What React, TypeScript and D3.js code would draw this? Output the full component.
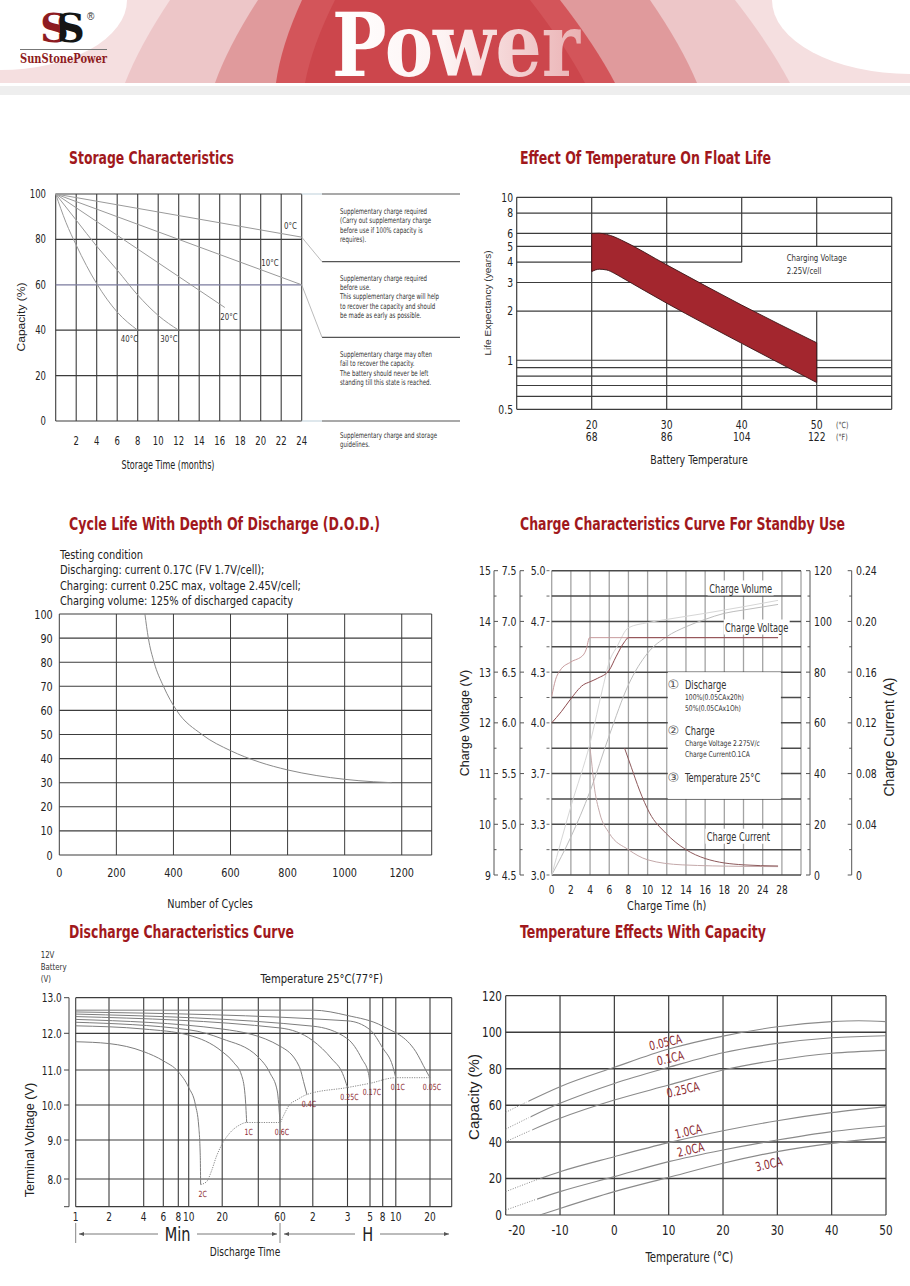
import React from "react";
import * as d3 from "d3";

type Pt = [number, number];

const W = 910;
const H = 1286;

const NARROW = "'DejaVu Sans Condensed', 'DejaVu Sans', sans-serif";
const SANS = "'Liberation Sans', 'DejaVu Sans', sans-serif";
const TITLE_FONT = "'DejaVu Sans Condensed', 'DejaVu Sans', sans-serif";
const TITLE_RED = "#a1181c";
const LABEL_RED = "#8c2a30";
const GRID = "#3c3c3c";
const INK = "#222";
const SX = 0.82;

// ---------- Storage characteristics
const STORAGE_MONTHS = [2, 4, 6, 8, 10, 12, 14, 16, 18, 20, 22, 24];
const STORAGE_CAPACITY = [0, 20, 40, 60, 80, 100];
const STORAGE_0C: Pt[] = [[0, 100], [24, 81]];
const STORAGE_10C: Pt[] = [[0, 100], [24, 60]];
const STORAGE_20C: Pt[] = [[0, 100], [16.5, 50]];
const STORAGE_30C: Pt[] = [[0, 100], [2, 88.5], [4, 77], [6, 66.5], [8, 55.5], [10, 46.5], [12, 40]];
const STORAGE_40C: Pt[] = [[0, 100], [1, 87.5], [2, 77.5], [4, 60.5], [6, 48], [8, 40]];
const STORAGE_SERIES = [STORAGE_0C, STORAGE_10C, STORAGE_20C, STORAGE_30C, STORAGE_40C];
const STORAGE_LABELS = ["0°C", "10°C", "20°C", "30°C", "40°C"];
const STORAGE_LABEL_AT: Pt[] = [[22.9, 86], [20.9, 69.7], [16.9, 46], [11.05, 36], [7.2, 36]];
const STORAGE_NOTES = [
  ["Supplementary charge required", "(Carry out supplementary charge", "before use if 100% capacity is", "requires)."],
  ["Supplementary charge required", "before use.", "This supplementary charge will help", "to recover the capacity and should", "be made as early as possible."],
  ["Supplementary charge may often", "fail to recover the capacity.", "The battery should never be left", "standing till this state is reached."],
  ["Supplementary charge and storage", "guidelines."],
];

// ---------- Float life
const FLOAT_TEMP_C = [20, 30, 40, 50];
const FLOAT_TEMP_F = [68, 86, 104, 122];
const FLOAT_YEARS_LABELED = [0.5, 1, 2, 3, 4, 5, 6, 8, 10];
const FLOAT_YEARS_GRID = [0.5, 0.6, 0.7, 0.8, 0.9, 1, 2, 3, 4, 5, 6, 8, 10];
const FLOAT_UPPER: Pt[] = [[20, 6.0], [21, 6.02], [22, 5.92], [23, 5.72], [24, 5.45], [30, 3.85], [40, 2.18], [50, 1.28]];
const FLOAT_LOWER: Pt[] = [[20, 3.5], [21, 3.62], [22, 3.58], [23, 3.42], [24, 3.22], [30, 2.24], [40, 1.27], [50, 0.73]];

// ---------- Cycle life
const CYCLE_X_TICKS = [0, 200, 400, 600, 800, 1000, 1200];
const CYCLE_Y_TICKS = [0, 10, 20, 30, 40, 50, 60, 70, 80, 90, 100];
const CYCLE_CURVE: Pt[] = [
  [300, 100], [312, 90], [332, 80], [365, 70], [411, 60], [500, 50], [600, 43.3],
  [700, 38.6], [800, 35.3], [900, 33], [1000, 31.4], [1100, 30.4], [1165, 30],
];
const CYCLE_NOTES = [
  "Testing condition",
  "Discharging: current 0.17C (FV 1.7V/cell);",
  "Charging: current 0.25C max, voltage 2.45V/cell;",
  "Charging volume: 125% of discharged capacity",
];

// ---------- Charge characteristics
const CHARGE_TIME_TICKS = [0, 2, 4, 6, 8, 10, 12, 14, 16, 18, 20, 24, 28];
const CHARGE_V12 = [9, 10, 11, 12, 13, 14, 15];
const CHARGE_V6 = ["4.5", "5.0", "5.5", "6.0", "6.5", "7.0", "7.5"];
const CHARGE_V4 = ["3.0", "3.3", "3.7", "4.0", "4.3", "4.7", "5.0"];
const CHARGE_VOLUME_TICKS = [0, 20, 40, 60, 80, 100, 120];
const CHARGE_CURRENT_TICKS = ["0", "0.04", "0.08", "0.12", "0.16", "0.20", "0.24"];
const CHARGE_VOLT_100: Pt[] = [[0, 12.0], [1, 12.22], [1.9, 12.45], [3.3, 12.75], [4, 12.81], [4.8, 12.88], [6, 13.04], [6.7, 13.3], [7.6, 13.6], [8, 13.68], [27.2, 13.68]];
const CHARGE_VOLT_50: Pt[] = [[0, 12.52], [0.4, 12.85], [0.9, 13.04], [2, 13.2], [3.3, 13.34], [3.6, 13.45], [3.95, 13.68], [27.2, 13.68]];
const CHARGE_VOL_50: Pt[] = [[0, 0], [2, 27], [4, 52], [5.4, 75], [6, 84], [6.8, 90], [8, 97.5], [10, 99.5], [12, 100.8], [14, 102], [16, 103.2], [18, 104.5], [20, 105.8], [27.2, 108.3]];
const CHARGE_VOL_100: Pt[] = [[0, 0], [2, 15], [4, 33], [6, 55], [8, 75], [10, 87.5], [12, 94], [14, 97.9], [16, 100.8], [18, 103.2], [20, 104.5], [27.2, 106.7]];
const CHARGE_CUR_50: Pt[] = [[4, 0.1], [4.15, 0.09], [4.4, 0.072], [5, 0.049], [6, 0.033], [8, 0.02], [10, 0.012], [13.6, 0.008], [20, 0.0068], [27.2, 0.0066]];
const CHARGE_CUR_100: Pt[] = [[7.6, 0.1], [8.3, 0.085], [9.15, 0.067], [10.2, 0.049], [11.9, 0.033], [14, 0.02], [16, 0.013], [20, 0.008], [27.2, 0.0071]];

// ---------- Discharge characteristics
const DISCHARGE_GRID_MIN = [1, 2, 4, 6, 8, 10, 20, 40, 60, 120, 180, 300, 480, 600, 1200];
const DISCHARGE_TICK_MIN = [1, 2, 4, 6, 8, 10, 20, 60, 120, 180, 300, 480, 600, 1200];
const DISCHARGE_TICK_LABELS = ["1", "2", "4", "6", "8", "10", "20", "60", "2", "3", "5", "8", "10", "20"];
const DISCHARGE_VOLT_TICKS = [13, 12, 11, 10, 9, 8];
const DISCHARGE_2C: Pt[] = [[1, 11.77], [2, 11.72], [4, 11.5], [6, 11.25], [8, 10.95], [10, 10.5], [11.5, 10.0], [12.3, 9.4], [12.7, 8.6], [12.8, 7.85]];
const DISCHARGE_1C: Pt[] = [[1, 12.21], [4, 12.12], [10, 11.95], [20, 11.5], [25, 11.2], [29, 10.85], [31, 10.3], [32, 9.5]];
const DISCHARGE_06C: Pt[] = [[1, 12.31], [10, 12.1], [20, 11.85], [40, 11.35], [50, 10.9], [57, 10.4], [60, 9.5]];
const DISCHARGE_04C: Pt[] = [[1, 12.39], [20, 12.12], [60, 11.65], [90, 11.1], [100, 10.6], [106, 10.3]];
const DISCHARGE_025C: Pt[] = [[1, 12.47], [60, 12.15], [120, 11.8], [150, 11.3], [170, 10.9], [180, 10.5]];
const DISCHARGE_017C: Pt[] = [[1, 12.54], [120, 12.2], [180, 11.85], [250, 11.3], [290, 10.9], [300, 10.62]];
const DISCHARGE_01C: Pt[] = [[1, 12.6], [180, 12.35], [300, 12.1], [480, 11.6], [570, 11.1], [600, 10.78]];
const DISCHARGE_005C: Pt[] = [[1, 12.65], [120, 12.65], [180, 12.5], [480, 12.2], [900, 11.5], [1100, 11.0], [1200, 10.78]];
const DISCHARGE_SERIES = [DISCHARGE_2C, DISCHARGE_1C, DISCHARGE_06C, DISCHARGE_04C, DISCHARGE_025C, DISCHARGE_017C, DISCHARGE_01C, DISCHARGE_005C];
const DISCHARGE_LABELS = ["2C", "1C", "0.6C", "0.4C", "0.25C", "0.17C", "0.1C", "0.05C"];
const DISCHARGE_ENDS: Pt[] = [[12.8, 7.85], [14.5, 7.93], [16, 8.2], [17.7, 8.57], [20, 8.9], [23, 9.19], [28, 9.43], [32, 9.5], [60, 9.5], [64, 9.67], [73, 10.0], [85, 10.14], [106, 10.3], [180, 10.5], [300, 10.62], [600, 10.78], [1200, 10.78]];

// ---------- Temperature vs capacity
const TEMP_X_TICKS = [-20, -10, 0, 10, 20, 30, 40, 50];
const TEMP_Y_TICKS = [0, 20, 40, 60, 80, 100, 120];
const TEMP_005CA: Pt[] = [[-20, 56.2], [-16, 62], [-10, 70.2], [0, 80.8], [10, 90.8], [20, 97.9], [30, 103], [40, 105.8], [45, 106.3], [50, 105.8]];
const TEMP_01CA: Pt[] = [[-20, 47], [-10, 61.1], [0, 72], [10, 80.8], [20, 88.8], [30, 93.9], [40, 97], [50, 98.1]];
const TEMP_025CA: Pt[] = [[-20, 40.1], [-10, 52.9], [0, 62.9], [10, 71.1], [20, 79.3], [30, 84.8], [40, 88.5], [50, 90.1]];
const TEMP_10CA: Pt[] = [[-20, 12.8], [-10, 23.7], [0, 31.9], [10, 39.6], [20, 46.1], [30, 51.6], [40, 56], [50, 59.3]];
const TEMP_20CA: Pt[] = [[-20, 2.7], [-10, 12.8], [0, 21], [10, 29.2], [20, 35.6], [30, 41], [40, 45.6], [50, 48.7]];
const TEMP_30CA: Pt[] = [[-13.7, 0], [-10, 3.6], [0, 12.8], [10, 20.6], [20, 28.3], [30, 34.7], [40, 39.2], [50, 42.5]];
const TEMP_SERIES = [TEMP_005CA, TEMP_01CA, TEMP_025CA, TEMP_10CA, TEMP_20CA, TEMP_30CA];
const TEMP_LABELS = ["0.05CA", "0.1CA", "0.25CA", "1.0CA", "2.0CA", "3.0CA"];
const TEMP_LABEL_AT: Pt[] = [[9.6, 94.3], [10.5, 85.7], [12.8, 68.4], [13.8, 45.6], [14.2, 35.6], [28.6, 27.7]];
const TEMP_DOTTED_UNTIL = [-16.2, -15.8, -15.5, -14, -14.6, -20];

type TxtProps = {
  x: number; y: number; size: number; anchor?: string; fill?: string; family?: string;
  sx?: number; rotate?: number; weight?: string; children: React.ReactNode;
};
// condensed text: the reference uses a narrow Tahoma-like face
const Txt = ({ x, y, size, anchor = "start", fill = INK, family = NARROW, sx = SX, rotate = 0, weight, children }: TxtProps) => (
  <text transform={`translate(${x},${y}) rotate(${rotate}) scale(${sx},1)`} textAnchor={anchor as any}
    fontFamily={family} fontSize={size} fill={fill} fontWeight={weight}>{children}</text>
);

const Title = ({ x, y, width, children }: { x: number; y: number; width: number; children: string }) => (
  <text transform={`translate(${x},${y}) scale(0.8,1)`} fontFamily={TITLE_FONT} fontWeight="bold" fontSize={17}
    fill={TITLE_RED} textLength={width / 0.8} lengthAdjust="spacingAndGlyphs">{children}</text>
);

const bandPath = (tl: number, tr: number, bl: number, br: number, h: number) =>
  `M${tl},0 Q${(tl + bl) / 2 - 8},${h * 0.55} ${bl},${h} L${br},${h} Q${(tr + br) / 2 + 8},${h * 0.55} ${tr},0 Z`;

const Header = () => (
  <g>
    <defs>
      <linearGradient id="powerFill" x1="0" x2="1" y1="0" y2="0">
        <stop offset="0" stopColor="#ffffff" />
        <stop offset="0.45" stopColor="#fdf3f3" />
        <stop offset="1" stopColor="#eab1b3" />
      </linearGradient>
      <linearGradient id="logoFill" x1="0" x2="1" y1="0" y2="0">
        <stop offset="0" stopColor="#8e1c22" />
        <stop offset="0.47" stopColor="#8e1c22" />
        <stop offset="0.47" stopColor="#151515" />
        <stop offset="1" stopColor="#151515" />
      </linearGradient>
    </defs>
    <rect x={0} y={0} width={W} height={83} fill="#f5dfe0" />
    <path d={bandPath(170, 735, 125, 790, 83)} fill="#edc6c8" />
    <path d={bandPath(258, 650, 215, 697, 83)} fill="#e09a9c" />
    <path d={bandPath(302, 560, 276, 615, 83)} fill="#d3555a" />
    <path d={bandPath(335, 530, 305, 585, 83)} fill="#cc464c" />
    <ellipse cx={0} cy={0} rx={127} ry={70} fill="#fff" />
    <ellipse cx={W} cy={0} rx={138} ry={74} fill="#fff" />
    <rect x={0} y={86} width={W} height={9} fill="#eeeeee" />
    <text x={332} y={76} fontFamily="'DejaVu Serif', serif" fontWeight="bold" fontSize={88}
      fill="url(#powerFill)" textLength={248} lengthAdjust="spacingAndGlyphs">Power</text>
    <text x={40} y={42} fontFamily="'DejaVu Serif', serif" fontWeight="bold" fontSize={40}
      letterSpacing={-12} fill="url(#logoFill)">SS</text>
    <text x={87} y={20} fontFamily={SANS} fontSize={10} fill="#333">®</text>
    <line x1={20} x2={107} y1={49.5} y2={49.5} stroke="#777" strokeWidth={1} />
    <text x={20} y={63} fontFamily="'DejaVu Serif', serif" fontWeight="bold" fontSize={12} fill="#8e1c22"
      textLength={87} lengthAdjust="spacingAndGlyphs">SunStonePower</text>
  </g>
);

const StorageChart = () => {
  const x = d3.scaleLinear().domain([0, 24]).range([55.7, 301.7]);
  const y = d3.scaleLinear().domain([0, 100]).range([421, 194]);
  const line = d3.line<Pt>().x((d) => x(d[0])).y((d) => y(d[1])).curve(d3.curveMonotoneX);
  const panelX0 = 322;
  const panelLines = [y(100), 261.7, 337.3, y(0)];
  const noteTops = [211, 277.7, 354, 435];
  return (
    <g>
      {[0, ...STORAGE_MONTHS].map((m) => (
        <line key={m} x1={x(m)} x2={x(m)} y1={y(0)} y2={y(100)} stroke={GRID} strokeWidth={1.1} />
      ))}
      {STORAGE_CAPACITY.map((c) => (
        <line key={c} x1={x(0)} x2={x(24)} y1={y(c)} y2={y(c)} stroke={c === 60 ? "#7b7b9e" : GRID} strokeWidth={1.2} />
      ))}
      {[y(100), y(0)].map((yy, i) => (
        <line key={i} x1={x(24)} x2={panelX0} y1={yy} y2={yy} stroke="#c8d8df" strokeWidth={1.2} />
      ))}
      {panelLines.map((yy, i) => (
        <line key={i} x1={panelX0} x2={460} y1={yy} y2={yy} stroke="#555" strokeWidth={1.2} />
      ))}
      <line x1={x(24)} y1={y(81)} x2={panelX0} y2={panelLines[1]} stroke="#aaa" strokeWidth={0.8} />
      <line x1={x(24)} y1={y(60)} x2={panelX0} y2={panelLines[2]} stroke="#aaa" strokeWidth={0.8} />
      {STORAGE_SERIES.map((s, i) => (
        <path key={i} d={line(s) || ""} fill="none" stroke="#9a9a9a" strokeWidth={1} />
      ))}
      {STORAGE_LABELS.map((l, i) => (
        <Txt key={l} x={x(STORAGE_LABEL_AT[i][0])} y={y(STORAGE_LABEL_AT[i][1]) + 3.2} anchor="middle" size={9.5} fill="#333">{l}</Txt>
      ))}
      {STORAGE_CAPACITY.map((c) => (
        <Txt key={c} x={46} y={y(c) + 4} anchor="end" size={11.5}>{c}</Txt>
      ))}
      {STORAGE_MONTHS.map((m) => (
        <Txt key={m} x={x(m)} y={445} anchor="middle" size={11.5}>{m}</Txt>
      ))}
      <Txt x={168} y={469} anchor="middle" size={11.5} sx={0.78}>Storage Time (months)</Txt>
      <Txt x={25} y={317} anchor="middle" size={11.5} family={SANS} sx={1.05} rotate={-90}>Capacity (%)</Txt>
      {STORAGE_NOTES.map((block, b) =>
        block.map((t, k) => (
          <Txt key={`${b}-${k}`} x={340} y={noteTops[b] + k * 9.4 + 2.8} size={7.9} sx={0.77} fill="#333">{t}</Txt>
        ))
      )}
    </g>
  );
};

const FloatChart = () => {
  const x = d3.scaleLinear().domain([10, 60]).range([516.7, 891.7]);
  const y = d3.scaleLog().domain([0.5, 10]).range([409.3, 197.3]);
  const edge = d3.line<Pt>().x((d) => x(d[0])).y((d) => y(d[1])).curve(d3.curveMonotoneX);
  const lowerRev = [...FLOAT_LOWER].reverse();
  const bandD = (edge(FLOAT_UPPER) || "") + (edge(lowerRev) || "").replace(/^M/, "L") + "Z";
  const segs: [number, number, number][] = [
    [20, 10, 0.5], [30, 10, 0.5], [40, 10, 4], [40, 1.27, 0.5], [50, 10, 5], [50, 2, 0.5],
  ];
  return (
    <g>
      {FLOAT_YEARS_GRID.map((v) => (
        <line key={v} x1={x(10)} x2={v === 4 ? x(40) : x(60)} y1={y(v)} y2={y(v)} stroke={GRID} strokeWidth={1.2} />
      ))}
      <line x1={x(10)} x2={x(10)} y1={y(10)} y2={y(0.5)} stroke={GRID} strokeWidth={1.2} />
      <line x1={x(60)} x2={x(60)} y1={y(10)} y2={y(0.5)} stroke={GRID} strokeWidth={1.2} />
      {segs.map(([t, a, b], i) => (
        <line key={i} x1={x(t)} x2={x(t)} y1={y(a)} y2={y(b)} stroke={GRID} strokeWidth={1.2} />
      ))}
      <path d={bandD} fill="#a3262e" stroke="#3a1416" strokeWidth={0.9} />
      <Txt x={786.7} y={261} size={9.5} fill="#333">Charging Voltage</Txt>
      <Txt x={786.7} y={274} size={9.5} fill="#333">2.25V/cell</Txt>
      {FLOAT_YEARS_LABELED.map((v) => (
        <Txt key={v} x={513} y={y(v) + 4.3} anchor="end" size={12.5}>{v}</Txt>
      ))}
      {FLOAT_TEMP_C.map((t, i) => (
        <g key={t}>
          <Txt x={x(t)} y={428.5} anchor="middle" size={12.5}>{t}</Txt>
          <Txt x={x(t)} y={441} anchor="middle" size={12.5}>{FLOAT_TEMP_F[i]}</Txt>
        </g>
      ))}
      <Txt x={836} y={427.5} size={8.5} fill="#444">(°C)</Txt>
      <Txt x={836} y={440} size={8.5} fill="#444">(°F)</Txt>
      <Txt x={699} y={463.5} anchor="middle" size={12.5} sx={0.84}>Battery Temperature</Txt>
      <Txt x={491} y={303} anchor="middle" size={9} family={SANS} sx={1.12} rotate={-90} fill="#333">Life Expectancy (years)</Txt>
    </g>
  );
};

const CycleChart = () => {
  const x = d3.scaleLinear().domain([0, 1305]).range([59.3, 431.7]);
  const y = d3.scaleLinear().domain([0, 100]).range([855, 614]);
  const line = d3.line<Pt>().x((d) => x(d[0])).y((d) => y(d[1])).curve(d3.curveMonotoneX);
  return (
    <g>
      {CYCLE_NOTES.map((t, i) => (
        <Txt key={i} x={60} y={558.5 + i * 15.5} size={12.5} sx={0.875}>{t}</Txt>
      ))}
      {[...CYCLE_X_TICKS, 1305].map((v) => (
        <line key={v} x1={x(v)} x2={x(v)} y1={y(0)} y2={y(100)} stroke={GRID} strokeWidth={1} />
      ))}
      {CYCLE_Y_TICKS.map((v) => (
        <line key={v} x1={x(0)} x2={x(1305)} y1={y(v)} y2={y(v)} stroke={GRID} strokeWidth={1.1} />
      ))}
      <path d={line(CYCLE_CURVE) || ""} fill="none" stroke="#8a8a8a" strokeWidth={1} />
      {CYCLE_Y_TICKS.map((v) => (
        <Txt key={v} x={52.7} y={y(v) + 4.5} anchor="end" size={12.5} sx={0.86}>{v}</Txt>
      ))}
      {CYCLE_X_TICKS.map((v) => (
        <Txt key={v} x={x(v)} y={876.5} anchor="middle" size={12.5} sx={0.86}>{v}</Txt>
      ))}
      <Txt x={210} y={907.5} anchor="middle" size={12.5} sx={0.86}>Number of Cycles</Txt>
    </g>
  );
};

const ChargeChart = () => {
  const x = d3.scaleLinear().domain([0, 20, 28, 32]).range([551.7, 743.5, 781.9, 801]);
  const vY = d3.scaleLinear().domain([9, 15]).range([875, 570.7]);
  const volY = d3.scaleLinear().domain([0, 120]).range([875, 570.7]);
  const curY = d3.scaleLinear().domain([0, 0.24]).range([875, 570.7]);
  const mk = (ys: d3.ScaleLinear<number, number>) =>
    d3.line<Pt>().x((d) => x(d[0])).y((d) => ys(d[1])).curve(d3.curveMonotoneX);
  const vLine = mk(vY);
  const volLine = mk(volY);
  const curLine = mk(curY);
  const halfSteps = d3.range(9, 15.01, 0.5);
  const box = { x0: x(12), x1: x(28), y0: vY(13), y1: vY(10.5) };
  const axisAt = (ax: number, side: number) => (
    <g>
      <line x1={ax} x2={ax} y1={vY(15)} y2={vY(9)} stroke="#555" strokeWidth={1} />
      {halfSteps.map((v) => (
        <line key={v} x1={ax} x2={ax + side * (Number.isInteger(v) ? 4 : 2.5)} y1={vY(v)} y2={vY(v)} stroke="#555" strokeWidth={1} />
      ))}
    </g>
  );
  const labelBg = (cx: number, cy: number, text: string) => (
    <g>
      <rect x={cx - 33} y={cy - 8} width={66} height={15} fill="#fff" />
      <Txt x={cx} y={cy + 4.2} anchor="middle" size={11.5} sx={0.8} fill="#333">{text}</Txt>
    </g>
  );
  const circled = "'DejaVu Sans', 'Noto Sans CJK SC', sans-serif";
  return (
    <g>
      {[...CHARGE_TIME_TICKS, 32].map((t) => (
        <line key={t} x1={x(t)} x2={x(t)} y1={vY(15)} y2={vY(9)} stroke="#a3a3a3" strokeWidth={1.3} />
      ))}
      {halfSteps.map((v) => (
        <line key={v} x1={x(0)} x2={x(32)} y1={vY(v)} y2={vY(v)} stroke="#4a4a4a" strokeWidth={1.5} />
      ))}
      <rect x={box.x0 + 1} y={box.y0} width={box.x1 - box.x0 - 2} height={box.y1 - box.y0} fill="#fff" />
      {labelBg(x(19.7), vY(14.65), "Charge Volume")}
      {labelBg(x(22.75), vY(13.88), "Charge Voltage")}
      {labelBg(x(19.46), vY(9.755), "Charge Current")}
      <path d={volLine(CHARGE_VOL_100) || ""} fill="none" stroke="#bdbdbd" strokeWidth={1} />
      <path d={volLine(CHARGE_VOL_50) || ""} fill="none" stroke="#d6d6d6" strokeWidth={1} />
      <path d={vLine(CHARGE_VOLT_50) || ""} fill="none" stroke="#c79a9c" strokeWidth={1} />
      <path d={vLine(CHARGE_VOLT_100) || ""} fill="none" stroke="#8e4a4e" strokeWidth={1} />
      <path d={curLine(CHARGE_CUR_50) || ""} fill="none" stroke="#c4a9aa" strokeWidth={1} />
      <path d={curLine(CHARGE_CUR_100) || ""} fill="none" stroke="#8e5a5c" strokeWidth={1} />
      {/* legend */}
      <text x={673.3} y={688.8} textAnchor="middle" fontFamily={circled} fontSize={13} fill="#555">①</text>
      <Txt x={685} y={688.5} size={11.5} sx={0.8} fill="#333">Discharge</Txt>
      <Txt x={685} y={699.5} size={8} sx={0.84} fill="#333">100%(0.05CAx20h)</Txt>
      <Txt x={685} y={711} size={8} sx={0.84} fill="#333">50%(0.05CAx1Oh)</Txt>
      <text x={673.3} y={735.3} textAnchor="middle" fontFamily={circled} fontSize={13} fill="#555">②</text>
      <Txt x={685} y={735} size={11.5} sx={0.8} fill="#333">Charge</Txt>
      <Txt x={685} y={746} size={8} sx={0.84} fill="#333">Charge Voltage 2.275V/c</Txt>
      <Txt x={685} y={757} size={8} sx={0.84} fill="#333">Charge CurrentO.1CA</Txt>
      <text x={673.3} y={782.3} textAnchor="middle" fontFamily={circled} fontSize={13} fill="#555">③</text>
      <Txt x={685} y={782} size={11.5} sx={0.8} fill="#333">Temperature 25°C</Txt>
      {axisAt(494, 1)}
      {axisAt(520, 1)}
      {halfSteps.map((v) => (
        <line key={v} x1={546.5} x2={549.5} y1={vY(v)} y2={vY(v)} stroke="#666" strokeWidth={1} />
      ))}
      {axisAt(810, -1)}
      {axisAt(851.7, -1)}
      {CHARGE_V12.map((v, i) => (
        <g key={v}>
          <Txt x={491} y={vY(v) + 4.5} anchor="end" size={13} sx={0.8}>{v}</Txt>
          <Txt x={516.5} y={vY(v) + 4.5} anchor="end" size={13} sx={0.8}>{CHARGE_V6[i]}</Txt>
          <Txt x={545.5} y={vY(v) + 4.5} anchor="end" size={13} sx={0.8}>{CHARGE_V4[i]}</Txt>
          <Txt x={814} y={vY(v) + 4.5} size={13} sx={0.8}>{CHARGE_VOLUME_TICKS[i]}</Txt>
          <Txt x={856} y={vY(v) + 4.5} size={13} sx={0.8}>{CHARGE_CURRENT_TICKS[i]}</Txt>
        </g>
      ))}
      {CHARGE_TIME_TICKS.map((t) => (
        <Txt key={t} x={x(t)} y={893.5} anchor="middle" size={12.5} sx={0.8}>{t}</Txt>
      ))}
      <Txt x={666.7} y={909.5} anchor="middle" size={13} sx={0.84}>Charge Time (h)</Txt>
      <Txt x={469} y={723} anchor="middle" size={12.5} family={SANS} sx={1} rotate={-90}>Charge Voltage (V)</Txt>
      <Txt x={894} y={737} anchor="middle" size={14} family={SANS} sx={1} rotate={-90}>Charge Current (A)</Txt>
    </g>
  );
};

const DischargeChart = () => {
  const x = d3.scaleLog()
    .domain([1, 2, 4, 6, 8, 10, 20, 40, 60, 120, 180, 300, 480, 600, 1200, 2000])
    .range([75.7, 109, 143.7, 163.3, 178.3, 188.7, 222.2, 258.3, 280, 312.8, 347.5, 370, 382.7, 395.8, 430, 451.7]);
  const y = d3.scaleLinear().domain([13, 12, 11, 10, 9, 8, 7.25]).range([997.7, 1033.3, 1070, 1105, 1140, 1179, 1206.7]);
  const line = d3.line<Pt>().x((d) => x(d[0])).y((d) => y(d[1])).curve(d3.curveMonotoneX);
  const x0 = x(1);
  const x1 = x(2000);
  const arrow = (ax1: number, ax2: number, yy: number) => {
    const dir = Math.sign(ax2 - ax1);
    return (
      <g>
        <line x1={ax1} x2={ax2} y1={yy} y2={yy} stroke="#555" strokeWidth={0.8} />
        <path d={`M${ax2},${yy} L${ax2 - dir * 5},${yy - 2} L${ax2 - dir * 5},${yy + 2} Z`} fill="#555" />
      </g>
    );
  };
  return (
    <g>
      <Txt x={40.7} y={958} size={9.5} fill="#333">12V</Txt>
      <Txt x={40.7} y={970} size={9.5} fill="#333">Battery</Txt>
      <Txt x={40.7} y={982} size={9.5} fill="#333">(V)</Txt>
      <Txt x={321.7} y={982.5} anchor="middle" size={12.5} sx={0.89}>Temperature 25°C(77°F)</Txt>
      {DISCHARGE_GRID_MIN.map((m) => (
        <line key={m} x1={x(m)} x2={x(m)} y1={y(13)} y2={y(7.25)} stroke={GRID} strokeWidth={1.1} />
      ))}
      <line x1={x1} x2={x1} y1={y(13)} y2={y(7.25)} stroke={GRID} strokeWidth={1.1} />
      {[...DISCHARGE_VOLT_TICKS, 7.25].map((v) => (
        <line key={v} x1={x0} x2={x1} y1={y(v)} y2={y(v)} stroke={GRID} strokeWidth={1.2} />
      ))}
      <line x1={69} x2={69} y1={y(13)} y2={y(7.25)} stroke="#444" strokeWidth={1} />
      {[...DISCHARGE_VOLT_TICKS, 7.25].map((v) => (
        <line key={v} x1={64} x2={69} y1={y(v)} y2={y(v)} stroke="#444" strokeWidth={1} />
      ))}
      {DISCHARGE_SERIES.map((s, i) => (
        <path key={i} d={line(s) || ""} fill="none" stroke="#7d7d7d" strokeWidth={1} />
      ))}
      <path d={line(DISCHARGE_ENDS) || ""} fill="none" stroke="#8a8a8a" strokeWidth={1} strokeDasharray="1.2 1.2" />
      {DISCHARGE_SERIES.map((s, i) => {
        const e = s[s.length - 1];
        return (
          <Txt key={i} x={x(e[0]) + 2} y={y(e[1]) + 12} anchor="middle" size={8.5} fill={LABEL_RED}>
            {DISCHARGE_LABELS[i]}
          </Txt>
        );
      })}
      {DISCHARGE_VOLT_TICKS.map((v) => (
        <Txt key={v} x={61.7} y={y(v) + 4.5} anchor="end" size={12.5} sx={0.8}>{v.toFixed(1)}</Txt>
      ))}
      {DISCHARGE_TICK_MIN.map((m, i) => (
        <Txt key={m} x={x(m)} y={1220.5} anchor="middle" size={12.5} sx={0.8}>{DISCHARGE_TICK_LABELS[i]}</Txt>
      ))}
      <line x1={x0} x2={x0} y1={1223} y2={1243} stroke="#666" strokeWidth={0.8} />
      <line x1={x(60)} x2={x(60)} y1={1223} y2={1243} stroke="#666" strokeWidth={0.8} />
      {arrow(158, 79, 1234)}
      {arrow(197, 277, 1234)}
      {arrow(355, 284, 1234)}
      {arrow(380, 449, 1234)}
      <Txt x={177.7} y={1240.5} anchor="middle" size={19} sx={0.85}>Min</Txt>
      <Txt x={367.7} y={1240.5} anchor="middle" size={19} sx={0.85}>H</Txt>
      <Txt x={245} y={1256} anchor="middle" size={12} sx={0.84}>Discharge Time</Txt>
      <Txt x={34} y={1140} anchor="middle" size={12.5} family={SANS} sx={1.02} rotate={-90}>Terminal Voltage (V)</Txt>
    </g>
  );
};

const TempChart = () => {
  const x = d3.scaleLinear().domain([-20, 50]).range([505.7, 886]);
  const y = d3.scaleLinear().domain([0, 120]).range([1215, 995.7]);
  const line = d3.line<Pt>().x((d) => x(d[0])).y((d) => y(d[1])).curve(d3.curveMonotoneX);
  return (
    <g>
      <defs>
        {TEMP_DOTTED_UNTIL.map((t, i) => (
          <g key={i}>
            <clipPath id={`tdot${i}`}><rect x={x(-20) - 2} y={990} width={x(t) - x(-20) + 2} height={230} /></clipPath>
            <clipPath id={`tsol${i}`}><rect x={x(t) + 2} y={990} width={x(50) - x(t)} height={230} /></clipPath>
          </g>
        ))}
      </defs>
      {TEMP_X_TICKS.map((t) => (
        <line key={t} x1={x(t)} x2={x(t)} y1={y(0)} y2={y(120)} stroke={GRID} strokeWidth={1.2} />
      ))}
      {TEMP_Y_TICKS.map((v) => (
        <line key={v} x1={x(-20)} x2={x(50)} y1={y(v)} y2={y(v)} stroke={GRID} strokeWidth={v === 0 || v === 120 ? 1.2 : 1.5} />
      ))}
      {TEMP_SERIES.map((s, i) => (
        <g key={i}>
          <path d={line(s) || ""} fill="none" stroke="#8a8a8a" strokeWidth={1} strokeDasharray="1 1.5" clipPath={`url(#tdot${i})`} />
          <path d={line(s) || ""} fill="none" stroke="#8a8a8a" strokeWidth={1.1} clipPath={`url(#tsol${i})`} />
        </g>
      ))}
      {TEMP_LABELS.map((l, i) => (
        <Txt key={l} x={x(TEMP_LABEL_AT[i][0])} y={y(TEMP_LABEL_AT[i][1]) + 4} anchor="middle" size={12.5} sx={0.82}
          rotate={-13} fill={LABEL_RED}>{l}</Txt>
      ))}
      {TEMP_Y_TICKS.map((v) => (
        <Txt key={v} x={502} y={y(v) + 5} anchor="end" size={14.5} sx={0.8}>{v}</Txt>
      ))}
      {TEMP_X_TICKS.map((t) => (
        <Txt key={t} x={t === -20 ? x(t) + 11 : x(t)} y={1235} anchor="middle" size={14.5} sx={0.8}>{t}</Txt>
      ))}
      <Txt x={689.3} y={1262} anchor="middle" size={13.5} sx={0.84}>Temperature (°C)</Txt>
      <Txt x={479} y={1097} anchor="middle" size={15} family={SANS} sx={1} rotate={-90}>Capacity (%)</Txt>
    </g>
  );
};

export default function App() {
  return (
    <svg width={W} height={H} viewBox={`0 0 ${W} ${H}`}
      style={{ position: "absolute", left: 0, top: 0, background: "#fff", display: "block" }}>
      <rect x={0} y={0} width={W} height={H} fill="#fff" />
      <Header />
      <Title x={69} y={164} width={165}>Storage Characteristics</Title>
      <Title x={520} y={164} width={251}>Effect Of Temperature On Float Life</Title>
      <Title x={69} y={530} width={311}>Cycle Life With Depth Of Discharge (D.O.D.)</Title>
      <Title x={520} y={530} width={325}>Charge Characteristics Curve For Standby Use</Title>
      <Title x={69} y={938} width={225}>Discharge Characteristics Curve</Title>
      <Title x={520} y={938} width={246}>Temperature Effects With Capacity</Title>
      <StorageChart />
      <FloatChart />
      <CycleChart />
      <ChargeChart />
      <DischargeChart />
      <TempChart />
    </svg>
  );
}
